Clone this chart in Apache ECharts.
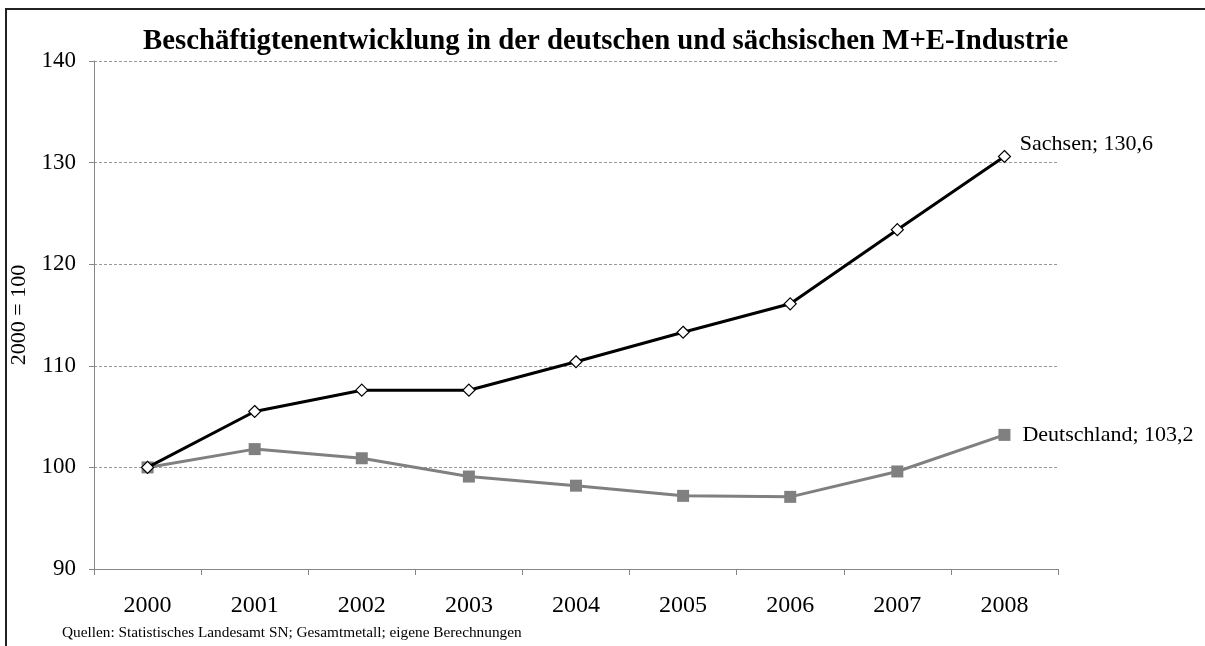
<!DOCTYPE html>
<html>
<head>
<meta charset="utf-8">
<script src="https://cdn.jsdelivr.net/npm/echarts@6/dist/echarts.min.js"></script>
<style>
  html, body { margin: 0; padding: 0; background: #fff; }
  #chart { width: 1205px; height: 646px; }
</style>
</head>
<body>
<div id="chart"></div>
<script>
var years = ['2000', '2001', '2002', '2003', '2004', '2005', '2006', '2007', '2008'];
var sachsen = [100, 105.5, 107.6, 107.6, 110.4, 113.3, 116.1, 123.4, 130.6];
var deutschland = [100, 101.8, 100.9, 99.1, 98.2, 97.2, 97.1, 99.6, 103.2];
var yTicks = [90, 100, 110, 120, 130, 140];

var serif = '"Liberation Serif", "Times New Roman", serif';

var myChart = echarts.init(document.getElementById('chart'));

function endLabel(name) {
  return {
    show: true,
    position: 'right',
    distance: 12,
    fontFamily: serif,
    fontSize: 22,
    color: '#000',
    formatter: function (p) {
      if (p.dataIndex !== years.length - 1) return '';
      return name + '; ' + String(p.value).replace('.', ',');
    }
  };
}

var option = {
  animation: false,
  backgroundColor: '#fff',
  title: {
    text: 'Beschäftigtenentwicklung in der deutschen und sächsischen M+E-Industrie',
    left: 143,
    top: 27,
    padding: 0,
    textStyle: { fontFamily: serif, fontSize: 28.8, fontWeight: 'bold', color: '#000' }
  },
  grid: { left: 93, right: 147, top: 61, bottom: 77 },
  xAxis: {
    type: 'category',
    data: years,
    boundaryGap: true,
    axisLine: { lineStyle: { color: '#868686', width: 1 } },
    axisTick: { show: true, length: 6, lineStyle: { color: '#868686' } },
    axisLabel: { fontFamily: serif, fontSize: 24, color: '#000', margin: 25 }
  },
  yAxis: {
    type: 'value',
    min: yTicks[0],
    max: yTicks[yTicks.length - 1],
    interval: 10,
    name: '2000 = 100',
    nameLocation: 'middle',
    nameGap: 64,
    nameTextStyle: { fontFamily: serif, fontSize: 22, color: '#000' },
    axisLine: { show: true, lineStyle: { color: '#868686', width: 1 } },
    axisTick: { show: true, length: 5, lineStyle: { color: '#868686' } },
    axisLabel: { fontFamily: serif, fontSize: 23, color: '#000', margin: 18 },
    splitLine: { show: true, lineStyle: { color: '#999', type: [3, 2], width: 1 } }
  },
  series: [
    {
      name: 'Deutschland',
      type: 'line',
      data: deutschland,
      symbol: 'rect',
      symbolSize: 12,
      lineStyle: { color: '#808080', width: 3 },
      itemStyle: { color: '#808080', borderWidth: 0 },
      label: endLabel('Deutschland'),
      z: 2
    },
    {
      name: 'Sachsen',
      type: 'line',
      data: sachsen,
      symbol: 'diamond',
      symbolSize: 12,
      lineStyle: { color: '#000', width: 3 },
      itemStyle: { color: '#fff', borderColor: '#000', borderWidth: 1.2 },
      label: Object.assign(endLabel('Sachsen'), { position: [22, -17] }),
      z: 3
    }
  ],
  graphic: [
    {
      type: 'polyline',
      shape: { points: [[6, 646], [6, 9], [1205, 9]] },
      style: { stroke: '#222', lineWidth: 2, fill: null }
    },
    {
      type: 'text',
      left: 62,
      top: 625,
      style: {
        text: 'Quellen: Statistisches Landesamt SN; Gesamtmetall; eigene Berechnungen',
        fontFamily: serif,
        fontSize: 15.3,
        fill: '#000'
      }
    }
  ]
};

myChart.setOption(option);
</script>
</body>
</html>
